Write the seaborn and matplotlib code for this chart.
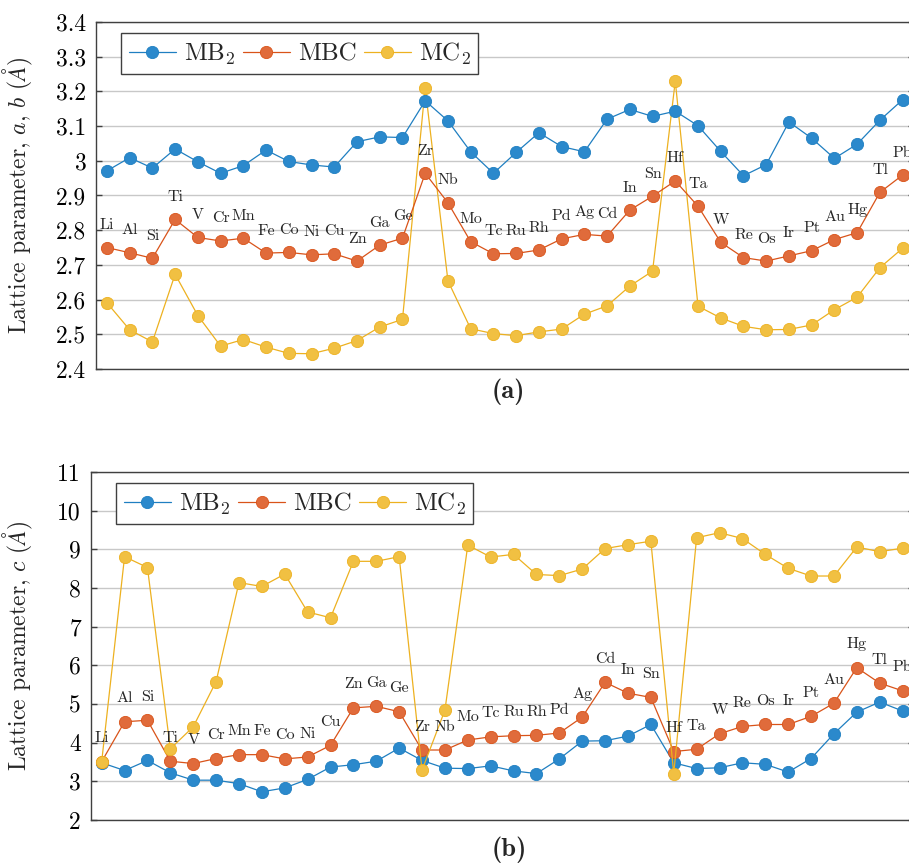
import matplotlib
matplotlib.use("Agg")
import matplotlib.pyplot as plt
import numpy as np
import pandas as pd
import seaborn as sns
from matplotlib.ticker import FuncFormatter

elements = ["Li", "Al", "Si", "Ti", "V", "Cr", "Mn", "Fe", "Co", "Ni", "Cu", "Zn",
            "Ga", "Ge", "Zr", "Nb", "Mo", "Tc", "Ru", "Rh", "Pd", "Ag", "Cd", "In",
            "Sn", "Hf", "Ta", "W", "Re", "Os", "Ir", "Pt", "Au", "Hg", "Tl", "Pb"]

a_MB2 = [2.971, 3.009, 2.979, 3.034, 2.997, 2.964, 2.986, 3.031, 2.998, 2.988, 2.982, 3.055,
         3.069, 3.067, 3.173, 3.115, 3.026, 2.964, 3.024, 3.081, 3.041, 3.026, 3.120, 3.148,
         3.128, 3.143, 3.101, 3.027, 2.957, 2.989, 3.112, 3.065, 3.007, 3.048, 3.117, 3.176]
a_MBC = [2.750, 2.735, 2.719, 2.831, 2.779, 2.769, 2.777, 2.734, 2.736, 2.729, 2.732, 2.711,
         2.757, 2.777, 2.964, 2.879, 2.767, 2.732, 2.733, 2.743, 2.775, 2.788, 2.783, 2.858,
         2.898, 2.942, 2.869, 2.765, 2.721, 2.711, 2.726, 2.741, 2.773, 2.793, 2.909, 2.959]
a_MC2 = [2.591, 2.513, 2.478, 2.673, 2.554, 2.466, 2.485, 2.463, 2.445, 2.444, 2.460, 2.482,
         2.521, 2.543, 3.210, 2.654, 2.516, 2.502, 2.496, 2.507, 2.515, 2.558, 2.582, 2.639,
         2.682, 3.230, 2.581, 2.547, 2.523, 2.513, 2.514, 2.527, 2.571, 2.607, 2.692, 2.748]

c_MB2 = [3.48, 3.28, 3.54, 3.22, 3.03, 3.03, 2.94, 2.73, 2.83, 3.05, 3.37, 3.43,
         3.52, 3.86, 3.54, 3.34, 3.33, 3.40, 3.27, 3.20, 3.58, 4.04, 4.05, 4.17,
         4.47, 3.48, 3.33, 3.35, 3.48, 3.44, 3.24, 3.59, 4.23, 4.79, 5.05, 4.82]
c_MBC = [3.51, 4.54, 4.58, 3.52, 3.46, 3.59, 3.69, 3.69, 3.58, 3.63, 3.93, 4.90,
         4.94, 4.80, 3.81, 3.81, 4.07, 4.15, 4.18, 4.19, 4.25, 4.66, 5.56, 5.28,
         5.17, 3.77, 3.83, 4.23, 4.42, 4.47, 4.47, 4.68, 5.02, 5.94, 5.54, 5.34]
c_MC2 = [3.51, 8.81, 8.53, 3.84, 4.41, 5.58, 8.14, 8.04, 8.36, 7.38, 7.23, 8.69,
         8.69, 8.81, 3.29, 4.84, 9.11, 8.80, 8.87, 8.35, 8.32, 8.49, 9.02, 9.12,
         9.21, 3.20, 9.30, 9.43, 9.28, 8.87, 8.51, 8.31, 8.31, 9.06, 8.94, 9.03]

series_names = ["MB$_2$", "MBC", "MC$_2$"]
line_colors = ["#1f7fc1", "#d95319", "#edb120"]
fill_colors = ["#2b89cc", "#e06b3b", "#f1c042"]

a_ticks = [2.4, 2.5, 2.6, 2.7, 2.8, 2.9, 3.0, 3.1, 3.2, 3.3, 3.4]
c_ticks = [2, 3, 4, 5, 6, 7, 8, 9, 10, 11]


def long_df(vals):
    rows = []
    for name, v in zip(series_names, vals):
        for i, (el, y) in enumerate(zip(elements, v)):
            rows.append({"idx": i, "element": el, "series": name, "value": y})
    return pd.DataFrame(rows)


df_a = long_df([a_MB2, a_MBC, a_MC2])
df_c = long_df([c_MB2, c_MBC, c_MC2])

sns.set_theme(style="white")
plt.rcParams["font.family"] = ["cmr10", "DejaVu Serif"]
plt.rcParams["mathtext.fontset"] = "cm"
plt.rcParams["axes.formatter.use_mathtext"] = True
plt.rcParams["axes.unicode_minus"] = False

W, H = 909, 864
fig = plt.figure(figsize=(W / 100, H / 100), dpi=100)
fig.patch.set_facecolor("white")


def px_axes(l, r, t, b):
    return fig.add_axes([l / W, 1 - b / H, (r - l) / W, (b - t) / H])


axA = px_axes(96, 914, 22, 369)
axB = px_axes(90.7, 914, 472, 820)

spine_col = "#404040"


def draw(ax, df, zorders, ticks, ylim, ylabel, label_coords, lab_off):
    handles = []
    for k, name in enumerate(series_names):
        sub = df[df["series"] == name]
        sns.lineplot(data=sub, x="idx", y="value", ax=ax, color=line_colors[k],
                     marker="o", markersize=8.8, markerfacecolor=fill_colors[k],
                     markeredgecolor=line_colors[k], markeredgewidth=0.6,
                     linewidth=0.9, zorder=zorders[k], label=name, legend=False)
        handles.append(ax.get_lines()[-1])
    mbc = df[df["series"] == "MBC"]
    for _, r in mbc.iterrows():
        ax.annotate(r["element"], (r["idx"], r["value"]), xytext=(0, lab_off),
                    textcoords="offset points", ha="center", va="baseline",
                    fontsize=11.5, family="cmr10", zorder=6)
    ax.set_xlim(-0.48, 35.5)
    ax.set_ylim(*ylim)
    ax.set_yticks(ticks)
    ax.yaxis.set_major_formatter(FuncFormatter(lambda v, p: f"{v:g}"))
    ax.set_xticks([])
    ax.set_xlabel("")
    ax.set_ylabel(ylabel, fontsize=17)
    ax.yaxis.set_label_coords(*label_coords)
    ax.grid(axis="y", color="#c8c8c8", linewidth=1.0)
    ax.grid(axis="x", visible=False)
    ax.set_axisbelow(True)
    for s in ax.spines.values():
        s.set_visible(True)
        s.set_color(spine_col)
        s.set_linewidth(1.0)
    ax.tick_params(axis="y", direction="in", length=4, width=1.0, color=spine_col,
                   left=True, right=True, labelsize=17, pad=7, labelcolor="black")
    ax.tick_params(axis="x", bottom=False, top=False)
    return handles


hA = draw(axA, df_a, [3, 4, 2], a_ticks, (2.4, 3.4),
          r"Lattice parameter, $a$, $b$ ($\AA$)", (-0.0746, 0.5), 13.3)
hB = draw(axB, df_c, [3, 4, 5], c_ticks, (2, 11),
          r"Lattice parameter, $c$ ($\AA$)", (-0.0677, 0.5), 14.0)

for ax, h, anchor in [(axA, hA, (0.0306, 0.968)), (axB, hB, (0.031, 0.969))]:
    leg = ax.legend(handles=h, labels=series_names, loc="upper left",
                    bbox_to_anchor=anchor, borderaxespad=0, ncol=3, fontsize=18,
                    handlelength=1.9, handletextpad=0.3, columnspacing=0.3,
                    borderpad=0.3, fancybox=False, framealpha=1, edgecolor=spine_col,
                    facecolor="white")
    leg.get_frame().set_linewidth(1.0)
    leg.set_zorder(10)

fig.text(508 / W, 1 - 392 / H, "(a)", ha="center", va="center", fontsize=19,
         family="cmb10")
fig.text(509 / W, 1 - 850 / H, "(b)", ha="center", va="center", fontsize=19,
         family="cmb10")

fig.savefig("out.png", dpi=100, facecolor="white")
